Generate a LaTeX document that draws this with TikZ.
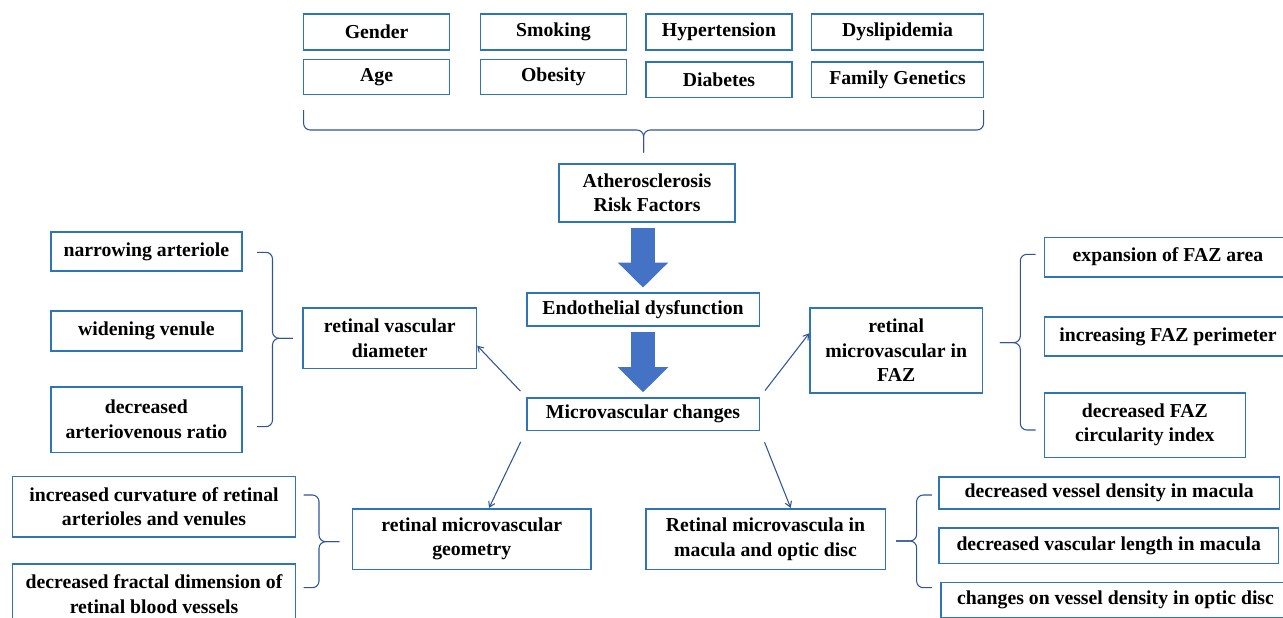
\documentclass[tikz,border=0pt]{standalone}
\usepackage{fontspec}
\setmainfont{Liberation Serif}
\usetikzlibrary{arrows.meta}

\definecolor{boxblue}{RGB}{46,117,182}
\definecolor{lineblue}{RGB}{47,85,151}
\definecolor{fatblue}{RGB}{68,114,196}

\tikzset{
  box/.style 2 args={draw=boxblue, line width=1.2pt, fill=white, align=center,
    inner sep=0pt, minimum width=#1*0.75pt, minimum height=#2*0.75pt,
    font=\fontsize{14.8}{18.4}\selectfont\bfseries},
  bracket/.style={draw=lineblue, line width=0.8pt, rounded corners=5pt},
  thin arrow/.style={draw=lineblue, line width=0.8pt, -{Straight Barb[length=4pt,width=5pt]}},
  fat arrow/.style={draw=fatblue, line width=18pt,
    -{Triangle[length=18.75pt,width=36.75pt]}},
}

\begin{document}
\begin{tikzpicture}[x=0.75pt,y=-0.75pt]
            \clip (0,0) rectangle (1283,618);

            % risk factors
            \node[box={146}{36}] (gender) at (376.6,32) {Gender};
            \node[box={146}{36}] (smoking) at (553.4,32) {Smoking};
            \node[box={146.5}{36}] (hyper) at (719,32) {Hypertension};
            \node[box={172.3}{36}] (dyslip) at (897.5,32) {Dyslipidemia};
            \node[box={146}{35}] (age) at (376.6,76.8) {Age};
            \node[box={146}{35}] (obesity) at (553.4,76.8) {Obesity};
            \node[box={146.5}{35.3}] (diabetes) at (719,79.7) {Diabetes};
            \node[box={172.3}{35.3}] (family) at (897.5,79.7) {Family Genetics};

            \draw[bracket] (303.6,110) |- (643.6,130) -- (643.6,152.7);
            \draw[bracket] (983.6,110) |- (643.6,130) -- (643.6,152.7);

            % main chain
            \node[box={176.4}{57.7}] (athero) at (647,192.9) {Atherosclerosis\\Risk Factors};
            \node[box={232.6}{33}] (endo) at (643,309.5) {Endothelial dysfunction};
            \node[box={232.6}{32.6}] (micro) at (643,414) {Microvascular changes};

            \draw[fat arrow, shorten <=3.75pt, shorten >=3.5pt] (endo.north |- athero.south) -- (endo.north);
            \draw[fat arrow, shorten <=3.75pt, shorten >=3.5pt] (micro.north |- endo.south) -- (micro.north);

            % retinal vascular diameter
            \node[box={190.8}{39.3}] (narrow) at (146.4,251.4) {narrowing arteriole};
            \node[box={190.8}{39.7}] (widen) at (146.4,330.9) {widening venule};
            \node[box={190.8}{65.6}] (avratio) at (146.4,419.5) {decreased\\arteriovenous ratio};
            \node[box={173.2}{60.6}] (vdiam) at (389.8,338) {retinal vascular\\diameter};

            \draw[bracket] (257,252.3) -| (272.5,338.3) -- (292.9,338.3);
            \draw[bracket] (257,426.7) -| (272.5,338.3) -- (292.9,338.3);

            % retinal microvascular geometry
            \node[box={282.9}{60.4}] (curv) at (154,506.5) {increased curvature of retinal\\arterioles and venules};
            \node[box={282.9}{60.4}] (fractal) at (154,594) {decreased fractal dimension of\\retinal blood vessels};
            \node[box={238.5}{60.6}] (geom) at (471.8,539) {retinal microvascular\\geometry};

            \draw[bracket] (303.6,495) -| (319,541.7) -- (339.3,541.7);
            \draw[bracket] (303.6,587.7) -| (319,541.7) -- (339.3,541.7);

            % FAZ
            \node[box={172.4}{85}] (faz) at (896.2,350.2) {retinal\\microvascular in\\FAZ};
            \node[box={247.4}{39.4}] (expan) at (1168,257) {expansion of FAZ area};
            \node[box={247.4}{39.3}] (perim) at (1168,336.4) {increasing FAZ perimeter};
            \node[box={201.2}{64.6}] (circ) at (1144.9,425) {decreased FAZ\\circularity index};

            \draw[bracket] (1035.5,254.3) -| (1020.3,342.7) -- (999.8,342.7);
            \draw[bracket] (1035.5,430) -| (1020.3,342.7) -- (999.8,342.7);

            % macula and optic disc
            \node[box={239.6}{60.6}] (macula) at (765.5,539) {Retinal microvascula in\\macula and optic disc};
            \node[box={340.6}{32}] (vden) at (1109.1,492.7) {decreased vessel density in macula};
            \node[box={339.8}{35.6}] (vlen) at (1108.7,545.5) {decreased vascular length in macula};
            \node[box={349.4}{35.4}] (optic) at (1115.5,600) {changes on vessel density in optic disc};

            \draw[bracket] (931.9,495) -| (916.6,541) -- (896.2,541);
            \draw[bracket] (931.9,587.7) -| (916.6,541) -- (896.2,541);

            % thin arrows
            \draw[thin arrow, shorten <=6pt] (micro.north west) -- (vdiam.-5);
            \draw[thin arrow, shorten <=9pt] (micro.south west) -- (geom.61);
            \draw[thin arrow, shorten <=6pt] (micro.north east) -- (faz.169);
            \draw[thin arrow, shorten <=9pt] (micro.south east) -- (macula.51);
        \end{tikzpicture}
\end{document}
